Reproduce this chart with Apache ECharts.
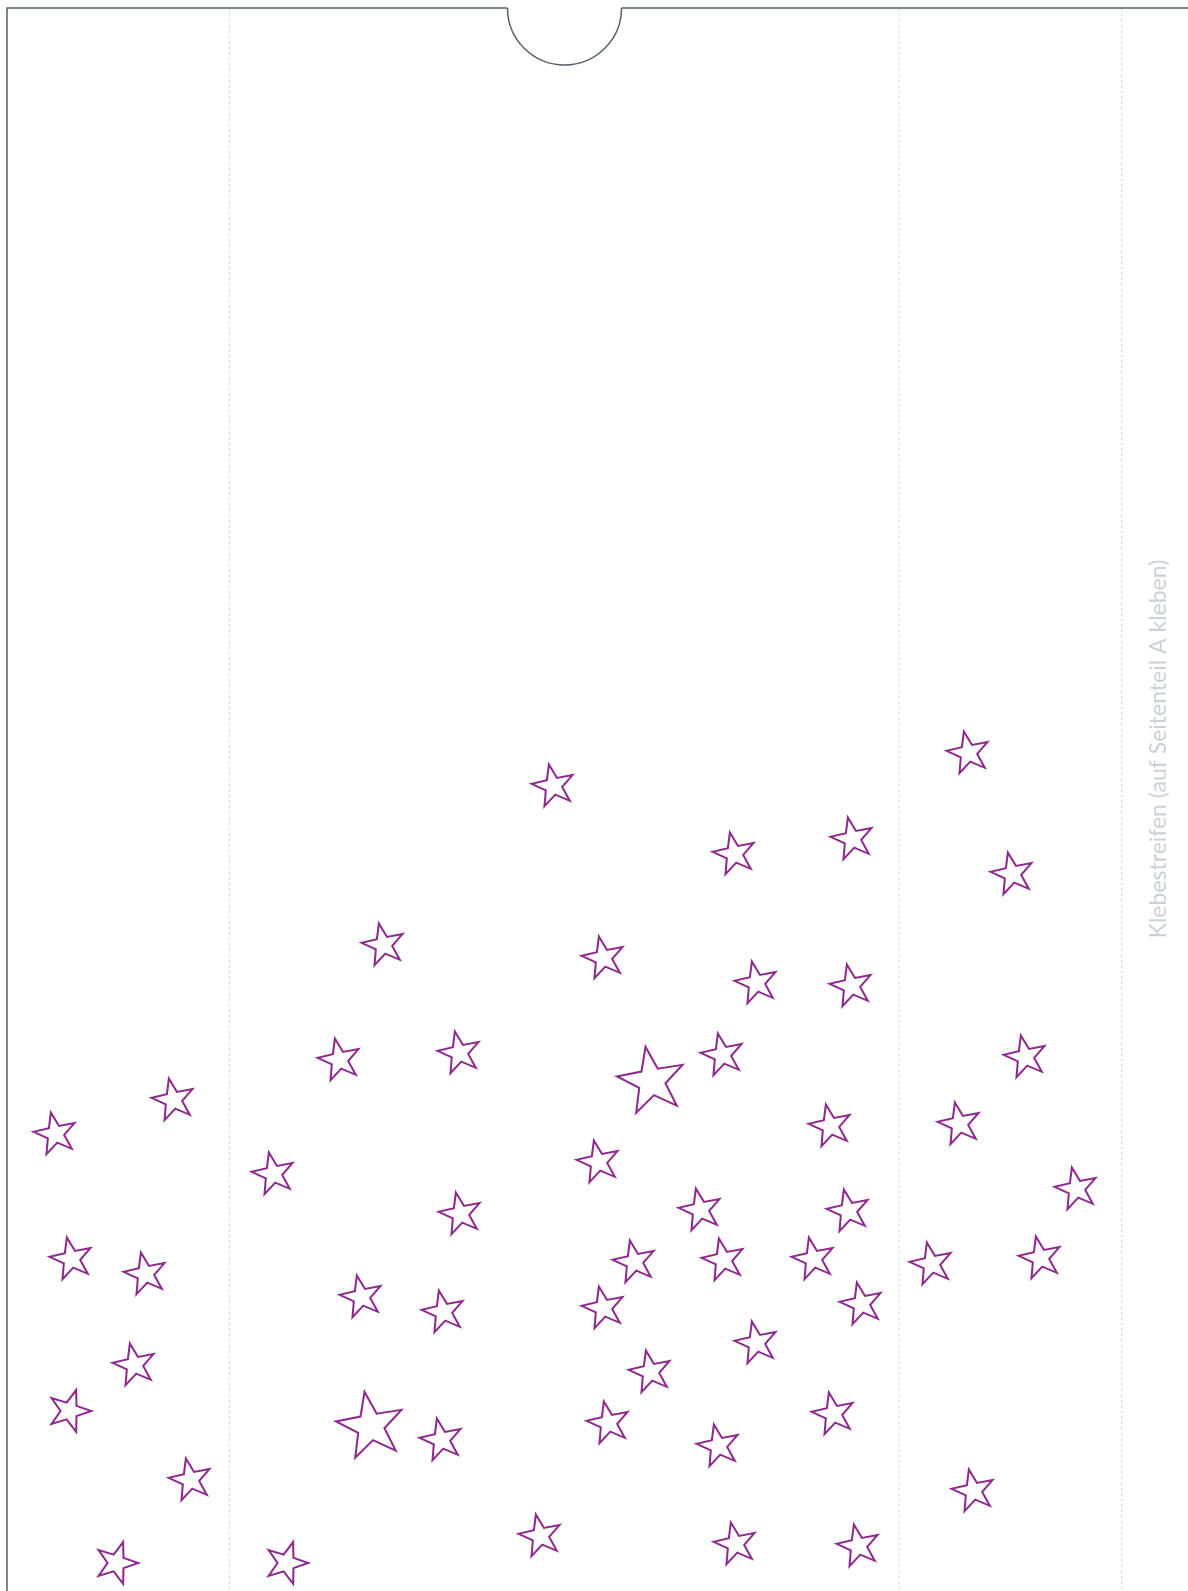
<!DOCTYPE html>
<html>
<head>
<meta charset="utf-8">
<style>
html,body{margin:0;padding:0;background:#fff;}
#chart{width:1188px;height:1591px;}
</style>
<script src="https://cdn.jsdelivr.net/npm/echarts@6/dist/echarts.min.js"></script>
</head>
<body>
<div id="chart"></div>
<script>
// ---- data ----
const starX = [55,173,71,145,134,70,190,117,273,339,383,459,460,361,443,370,441,287,553,603,651,598,634,603,650,608,540,734,852,756,851,722,830,700,848,723,813,861,756,833,718,735,858,968,1012,1025,959,1076,931,1040,973];
const starY = [1132,1098,1257,1272,1363,1409,1478,1561,1172,1058,943,1051,1212,1295,1310,1423,1438,1561,784,956,1078,1160,1260,1306,1370,1421,1534,852,837,981,984,1053,1124,1208,1209,1258,1257,1302,1341,1412,1444,1542,1544,751,872,1055,1122,1187,1262,1256,1489];
const starRadius = [22,22,22,22,22,22,22,22,22,22,22,22,22,22,22,35,22,22,22,22,35,22,22,22,22,22,22,22,22,22,22,22,22,22,22,22,22,22,22,22,22,22,22,22,22,22,22,22,22,22,22];
const starTilt = [12,12,12,12,12,-18,12,-18,12,12,12,12,12,12,12,10,12,-18,12,12,10,12,12,12,12,12,12,12,12,12,12,12,12,12,12,12,12,12,12,12,12,12,12,12,12,12,12,12,12,12,12];

const foldLinesX = [229.3, 899, 1121.7];
const frameLeftX = 7;
const frameTopY = 8;
const notchCenterX = 564.5;
const notchRadius = 57;
const pageW = 1188, pageH = 1591;
const sideLabel = 'Klebestreifen (auf Seitenteil A kleben)';

// ---- star symbol ----
function starPath(inner){
  let d = '';
  for (let k = 0; k < 10; k++){
    const a = k * Math.PI / 5;
    const r = k % 2 === 0 ? 100 : 100 * inner;
    const x = (r * Math.sin(a)).toFixed(2);
    const y = (-r * Math.cos(a)).toFixed(2);
    d += (k === 0 ? 'M' : 'L') + x + ' ' + y + ' ';
  }
  return 'path://' + d + 'Z';
}
const STAR = starPath(0.4);

const starData = starX.map((x, i) => ({
  value: [x, starY[i]],
  symbolSize: [1.902 * starRadius[i], 1.809 * starRadius[i]],
  symbolRotate: starTilt[i]
}));

const chart = echarts.init(document.getElementById('chart'), null, {renderer:'canvas'});

const foldSeries = foldLinesX.map(x => ({
  type: 'line',
  silent: true,
  symbol: 'none',
  animation: false,
  data: [[x, frameTopY], [x, pageH]],
  lineStyle: {color: '#d6d6d6', width: 1, type: [3, 2.5]},
  z: 1
}));

chart.setOption({
  animation: false,
  backgroundColor: '#ffffff',
  grid: {left: 0, right: 0, top: 0, bottom: 0},
  xAxis: {type: 'value', min: 0, max: pageW, show: false},
  yAxis: {type: 'value', min: 0, max: pageH, inverse: true, show: false},
  series: [
    ...foldSeries,
    {
      type: 'custom',
      silent: true,
      data: [[frameLeftX, frameTopY]],
      z: 2,
      renderItem: function(params, api){
        const tl = api.coord([frameLeftX, frameTopY]);
        const bl = api.coord([frameLeftX, pageH]);
        const nl = api.coord([notchCenterX - notchRadius, frameTopY]);
        const nr = api.coord([notchCenterX + notchRadius, frameTopY]);
        const tr = api.coord([pageW, frameTopY]);
        const c = api.coord([notchCenterX, frameTopY]);
        const r = api.size([notchRadius, 0])[0];
        const st = {stroke: '#55616b', lineWidth: 1.5, fill: null};
        return {
          type: 'group',
          children: [
            {type: 'polyline', shape: {points: [bl, tl, nl]}, style: st},
            {type: 'arc', shape: {cx: c[0], cy: c[1], r: r, startAngle: 0, endAngle: Math.PI, clockwise: true}, style: st},
            {type: 'polyline', shape: {points: [nr, tr]}, style: st}
          ]
        };
      }
    },
    {
      type: 'scatter',
      silent: true,
      symbol: STAR,
      data: starData,
      itemStyle: {color: '#ffffff', borderColor: '#8e2a8e', borderWidth: 2, opacity: 1},
      z: 3
    }
  ],
  graphic: [
    {
      type: 'text',
      x: 1159,
      y: 749,
      rotation: Math.PI / 2,
      silent: true,
      style: {
        text: sideLabel,
        fill: '#c9d2d9',
        font: 'normal 23px Lato',
        align: 'center',
        verticalAlign: 'middle'
      }
    }
  ]
});
</script>
</body>
</html>
